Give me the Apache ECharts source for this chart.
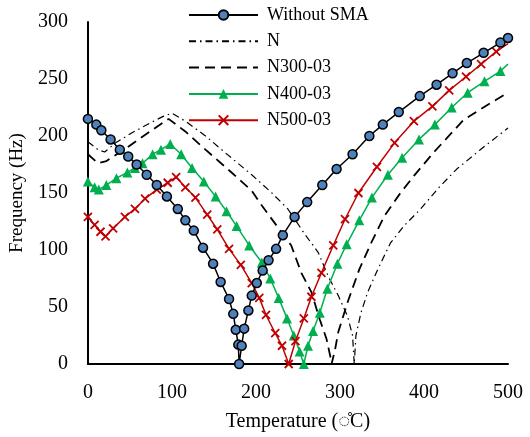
<!DOCTYPE html>
<html>
<head>
<meta charset="utf-8">
<script src="https://cdn.jsdelivr.net/npm/echarts@6/dist/echarts.min.js"></script>
<style>html,body{margin:0;padding:0;background:#fff;}#c{width:530px;height:437px;}</style>
</head>
<body>
<div id="c"></div>
<script>
// ---- data ----
const seriesNames = ['Without SMA', 'N', 'N300-03', 'N400-03', 'N500-03'];
const xTicks = [0, 100, 200, 300, 400, 500];
const yTicks = [0, 50, 100, 150, 200, 250, 300];

const withoutSmaT = [0,10,16,27,38,48,58,70,82,94,107,116,126,137,149,158,168,173,176,179,180,183,186,191,195,201,208,215,224,232,246,261,279,296,315,335,351,370,395,415,434,451,471,491,500];
const withoutSmaF = [215,210,205,197,188,182,175,166,157,147,136,126,117,102,88,72,57,44,30,17,0,16,31,47,60,71,82,91,101,113,129,142,157,171,184,200,210,221,235,245,255,264,273,282,286];

const nT = [0,12,20,33,53,73,89,100,116,140,164,195,219,238,258,274,286,298,309,315,317,319,325,333,345,360,376,396,418,439,467,500];
const nF = [195,188,186,194,203,211,217,220,213,200,185,166,150,136,114,98,77,60,42,25,0,25,45,63,83,106,121,136,155,171,188,207];

const n300T = [0,12,22,45,70,96,116,140,171,195,207,220,242,254,266,276,284,289,290,294,298,309,323,337,353,372,388,412,447,475,500];
const n300F = [184,176,178,189,202,215,204,188,168,152,139,126,104,80,63,39,22,5,0,12,28,54,83,106,130,150,165,186,214,227,238];

const n400T = [0,8,13,22,34,47,56,65,77,87,98,111,124,138,152,165,177,192,207,217,227,237,245,252,257,262,268,276,285,297,308,323,338,357,374,394,413,433,452,472,491,500];
const n400F = [160,155,153,157,163,168,172,176,184,188,193,184,172,160,147,134,121,104,89,75,58,40,25,11,0,16,29,45,66,88,105,126,146,166,181,197,210,225,238,248,257,263];

const n500T = [0,8,15,21,30,44,56,68,82,95,105,116,128,142,154,168,182,195,204,212,223,231,239,247,257,266,278,292,306,322,344,365,388,410,430,450,468,486,500];
const n500F = [129,122,116,112,119,129,136,145,153,159,164,155,146,131,118,101,87,71,58,43,27,16,0,20,40,59,80,104,127,150,173,194,213,226,240,252,263,274,281];

// ---- build ----
function pairs(T, F, hideLast) {
  return T.map((t, i) => {
    const d = { value: [t, F[i]] };
    if (hideLast && i === T.length - 1) d.symbol = 'none';
    return d;
  });
}
const serif = 'Liberation Serif';
const crossPath = 'path://M0,0L10,10M0,10L10,0';

const chart = echarts.init(document.getElementById('c'), null, { renderer: 'canvas' });
chart.setOption({
  animation: false,
  backgroundColor: '#fff',
  grid: { left: 85, right: 22, top: 22, bottom: 72, containLabel: false },
  xAxis: {
    type: 'value', min: xTicks[0], max: xTicks[xTicks.length - 1], interval: 100,
    name: 'Temperature (\u25CC\u030AC)', nameLocation: 'middle', nameGap: 48,
    nameTextStyle: { fontFamily: serif, fontSize: 20, color: '#000' },
    axisLine: { lineStyle: { color: '#000', width: 2 } },
    axisTick: { show: false }, splitLine: { show: false },
    axisLabel: { fontFamily: serif, fontSize: 20, color: '#000', margin: 19 }
  },
  yAxis: {
    type: 'value', min: yTicks[0], max: yTicks[yTicks.length - 1], interval: 50,
    name: 'Frequency (Hz)', nameLocation: 'middle', nameGap: 53,
    nameTextStyle: { fontFamily: serif, fontSize: 19, color: '#000' },
    axisLine: { show: true, lineStyle: { color: '#000', width: 2 } },
    axisTick: { show: false }, splitLine: { show: false },
    axisLabel: { fontFamily: serif, fontSize: 20, color: '#000', margin: 20 }
  },
  legend: {
    orient: 'vertical', left: 188, top: 6, padding: 0,
    itemWidth: 69, itemHeight: 12, itemGap: 8.3,
    textStyle: { fontFamily: serif, fontSize: 18, color: '#000', padding: [0, 0, 0, 4] },
    data: seriesNames
  },
  series: [
    {
      name: seriesNames[1], type: 'line', data: pairs(nT, nF), symbol: 'none', z: 2,
      lineStyle: { color: '#000', width: 1.2, type: [7, 4, 1.5, 4] },
      itemStyle: { color: '#000', opacity: 0 }
    },
    {
      name: seriesNames[2], type: 'line', data: pairs(n300T, n300F), symbol: 'none', z: 2,
      lineStyle: { color: '#000', width: 1.8, type: [10, 6] },
      itemStyle: { color: '#000', opacity: 0 }
    },
    {
      name: seriesNames[3], type: 'line', data: pairs(n400T, n400F, true), z: 3,
      symbol: 'triangle', symbolSize: 10,
      lineStyle: { color: '#00B050', width: 1.5 },
      itemStyle: { color: '#00B050', borderWidth: 0 }
    },
    {
      name: seriesNames[4], type: 'line', data: pairs(n500T, n500F, true), z: 4,
      symbol: crossPath, symbolSize: 8,
      lineStyle: { color: '#C00000', width: 1.5 },
      itemStyle: { color: '#C00000', borderColor: '#C00000', borderWidth: 1.8 }
    },
    {
      name: seriesNames[0], type: 'line', data: pairs(withoutSmaT, withoutSmaF), z: 5,
      symbol: 'circle', symbolSize: 9,
      lineStyle: { color: '#000', width: 1.5 },
      itemStyle: { color: '#4F81BD', borderColor: '#000', borderWidth: 1.5 }
    }
  ]
});
</script>
</body>
</html>
